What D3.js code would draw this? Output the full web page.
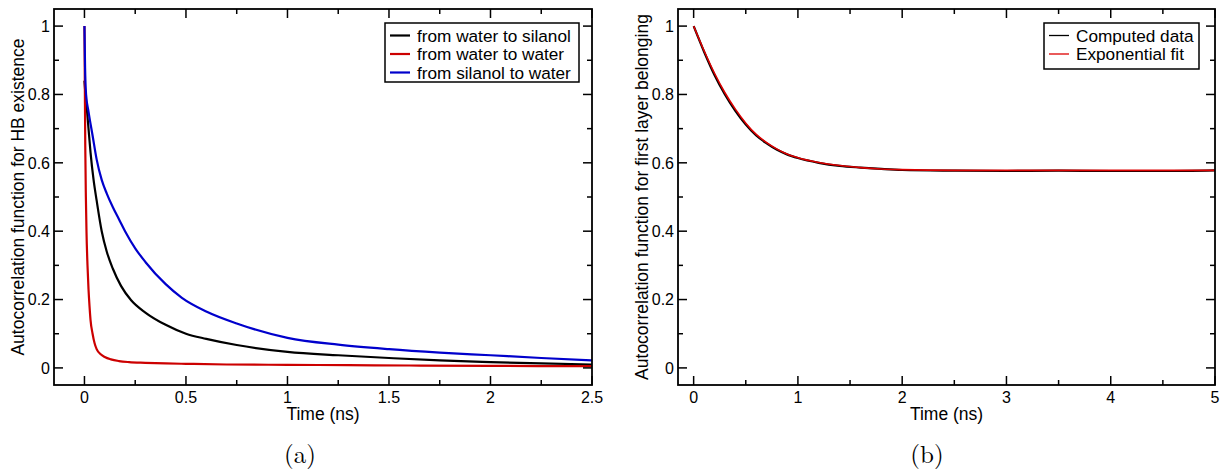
<!DOCTYPE html>
<html><head><meta charset="utf-8">
<script src="https://cdn.jsdelivr.net/npm/d3@7"></script>
<style>
html,body{margin:0;padding:0;background:#fff;}
svg{display:block;}
text{font-family:"Liberation Sans",Arial,sans-serif;fill:#000;}
</style></head>
<body>
<svg id="chart" width="1225" height="476"></svg>
<script>
// ---- Panel (a) data: HB existence autocorrelation ----
const timeWS = [0, 0.005, 0.01, 0.02, 0.03, 0.045, 0.06, 0.085, 0.11, 0.14, 0.18, 0.23, 0.3, 0.4, 0.5, 0.6, 0.75, 1.0, 1.25, 1.5, 1.75, 2.0, 2.25, 2.5];
const waterToSilanol = [0.84, 0.80, 0.77, 0.70, 0.63, 0.55, 0.49, 0.40, 0.34, 0.29, 0.24, 0.198, 0.162, 0.126, 0.10, 0.085, 0.067, 0.047, 0.037, 0.029, 0.022, 0.017, 0.013, 0.010];
const timeWW = [0, 0.002, 0.004, 0.007, 0.01, 0.015, 0.02, 0.025, 0.03, 0.04, 0.05, 0.06, 0.08, 0.1, 0.13, 0.17, 0.22, 0.3, 0.4, 0.5, 0.7, 1.0, 1.3, 1.6, 2.0, 2.5];
const waterToWater = [1.0, 0.82, 0.65, 0.50, 0.40, 0.30, 0.23, 0.18, 0.14, 0.10, 0.072, 0.055, 0.040, 0.032, 0.025, 0.020, 0.017, 0.015, 0.013, 0.012, 0.010, 0.009, 0.008, 0.007, 0.006, 0.005];
const timeSW = [0, 0.003, 0.008, 0.02, 0.04, 0.06, 0.085, 0.11, 0.14, 0.17, 0.2, 0.25, 0.3, 0.4, 0.48, 0.6, 0.75, 1.0, 1.25, 1.5, 1.75, 2.0, 2.25, 2.5];
const silanolToWater = [1.0, 0.88, 0.80, 0.75, 0.68, 0.61, 0.55, 0.51, 0.47, 0.435, 0.40, 0.35, 0.31, 0.245, 0.205, 0.165, 0.13, 0.088, 0.068, 0.055, 0.045, 0.037, 0.029, 0.022];
const legendA = ["from water to silanol", "from water to water", "from silanol to water"];
const xTicksA = [0, 0.5, 1, 1.5, 2, 2.5];
const yTicks = [0, 0.2, 0.4, 0.6, 0.8, 1];

// ---- Panel (b) data: first layer belonging autocorrelation ----
const timeB = [0, 0.1, 0.2, 0.3, 0.4, 0.5, 0.6, 0.7, 0.8, 0.9, 1.0, 1.2, 1.4, 1.6, 1.8, 2.0, 2.5, 3.0, 3.5, 4.0, 4.5, 5.0];
const computedData = [1.0, 0.925, 0.857, 0.800, 0.752, 0.712, 0.680, 0.657, 0.638, 0.624, 0.614, 0.600, 0.591, 0.586, 0.582, 0.579, 0.577, 0.576, 0.577, 0.576, 0.576, 0.578];
const exponentialFit = [1.0, 0.928, 0.862, 0.805, 0.757, 0.716, 0.683, 0.659, 0.640, 0.625, 0.615, 0.601, 0.592, 0.586, 0.582, 0.580, 0.578, 0.578, 0.578, 0.578, 0.578, 0.578];
const legendB = ["Computed data", "Exponential fit"];
const xTicksB = [0, 1, 2, 3, 4, 5];

const svg = d3.select("#chart");

function panel(cfg) {
  const x = d3.scaleLinear().domain(cfg.xDomain).range([cfg.left, cfg.right]);
  const y = d3.scaleLinear().domain([-0.05, 1.05]).range([385, 9]);
  const g = svg.append("g");
  const clipId = "clip" + cfg.id;
  svg.append("clipPath").attr("id", clipId).append("rect")
    .attr("x", cfg.left).attr("y", 9).attr("width", cfg.right - cfg.left).attr("height", 376);

  // curves
  const line = d3.line().x(d => x(d[0])).y(d => y(d[1])).curve(d3.curveMonotoneX);
  cfg.series.forEach(s => {
    g.append("path")
      .datum(s.t.map((t, i) => [t, s.v[i]]))
      .attr("d", line)
      .attr("fill", "none")
      .attr("stroke", s.color)
      .attr("stroke-width", s.width)
      .attr("clip-path", `url(#${clipId})`);
  });

  // frame
  g.append("rect").attr("x", cfg.left).attr("y", 9)
    .attr("width", cfg.right - cfg.left).attr("height", 376)
    .attr("fill", "none").attr("stroke", "#000").attr("stroke-width", 1.8);

  const major = 9, minor = 5;
  const xMinor = [];
  for (let i = 0; i < cfg.xTicks.length - 1; i++) xMinor.push((cfg.xTicks[i] + cfg.xTicks[i + 1]) / 2);
  const addXTicks = (vals, len) => {
    vals.forEach(v => {
      g.append("line").attr("x1", x(v)).attr("x2", x(v)).attr("y1", 385).attr("y2", 385 - len)
        .attr("stroke", "#000").attr("stroke-width", 1.5);
      g.append("line").attr("x1", x(v)).attr("x2", x(v)).attr("y1", 9).attr("y2", 9 + len)
        .attr("stroke", "#000").attr("stroke-width", 1.5);
    });
  };
  addXTicks(cfg.xTicks, major);
  addXTicks(xMinor, minor);
  const yMinor = [0.1, 0.3, 0.5, 0.7, 0.9];
  const addYTicks = (vals, len) => {
    vals.forEach(v => {
      g.append("line").attr("x1", cfg.left).attr("x2", cfg.left + len).attr("y1", y(v)).attr("y2", y(v))
        .attr("stroke", "#000").attr("stroke-width", 1.5);
      g.append("line").attr("x1", cfg.right).attr("x2", cfg.right - len).attr("y1", y(v)).attr("y2", y(v))
        .attr("stroke", "#000").attr("stroke-width", 1.5);
    });
  };
  addYTicks(yTicks, major);
  addYTicks(yMinor, minor);

  // tick labels
  g.selectAll(null).data(cfg.xTicks).enter().append("text")
    .attr("x", d => x(d)).attr("y", 403).attr("text-anchor", "middle")
    .attr("font-size", 16).text(d => d3.format("~g")(d));
  g.selectAll(null).data(yTicks).enter().append("text")
    .attr("x", cfg.left - 4).attr("y", d => y(d)).attr("dy", "0.36em").attr("text-anchor", "end")
    .attr("font-size", 16).text(d => d3.format("~g")(d));

  // axis titles
  g.append("text").attr("x", (cfg.left + cfg.right) / 2).attr("y", 420)
    .attr("text-anchor", "middle").attr("font-size", 17.5).text("Time (ns)");
  g.append("text").attr("transform", `translate(${cfg.left - 30},197) rotate(-90)`)
    .attr("text-anchor", "middle").attr("font-size", 17.5).text(cfg.yTitle);

  // legend
  const L = cfg.legend;
  g.append("rect").attr("x", L.x).attr("y", L.y).attr("width", L.w).attr("height", L.h)
    .attr("fill", "#fff").attr("stroke", "#000").attr("stroke-width", 1.5);
  cfg.series.forEach((s, i) => {
    const cy = L.y + 12.5 + i * 18.5;
    g.append("line").attr("x1", L.x + 5).attr("x2", L.x + 25).attr("y1", cy).attr("y2", cy)
      .attr("stroke", s.color).attr("stroke-width", L.lw);
    g.append("text").attr("x", L.x + 32).attr("y", cy).attr("dy", "0.36em")
      .attr("font-size", 17.2).text(s.name);
  });

  // caption
  svg.append("text").attr("x", cfg.caption.x).attr("y", 463).attr("text-anchor", "middle")
    .style("font-family", "'Latin Modern Roman','CMU Serif','DejaVu Serif','Liberation Serif',serif")
    .attr("font-size", 25).text(cfg.caption.text);
}

panel({
  id: "a", left: 54, right: 592, xDomain: [-0.15, 2.5], xTicks: xTicksA,
  yTitle: "Autocorrelation function for HB existence",
  series: [
    { name: legendA[0], t: timeWS, v: waterToSilanol, color: "#000000", width: 2.2 },
    { name: legendA[1], t: timeWW, v: waterToWater, color: "#cc0000", width: 2.2 },
    { name: legendA[2], t: timeSW, v: silanolToWater, color: "#0000cc", width: 2.2 }
  ],
  legend: { x: 385, y: 23, w: 194, h: 59, lw: 2.2 },
  caption: { x: 300, text: "(a)" }
});

panel({
  id: "b", left: 678, right: 1215, xDomain: [-0.15, 5], xTicks: xTicksB,
  yTitle: "Autocorrelation function for first layer belonging",
  series: [
    { name: legendB[0], t: timeB, v: computedData, color: "#000000", width: 2.2 },
    { name: legendB[1], t: timeB, v: exponentialFit, color: "#dd0000", width: 1.6 }
  ],
  legend: { x: 1044, y: 23, w: 155, h: 46, lw: 1.3 },
  caption: { x: 927, text: "(b)" }
});
</script>
</body></html>
